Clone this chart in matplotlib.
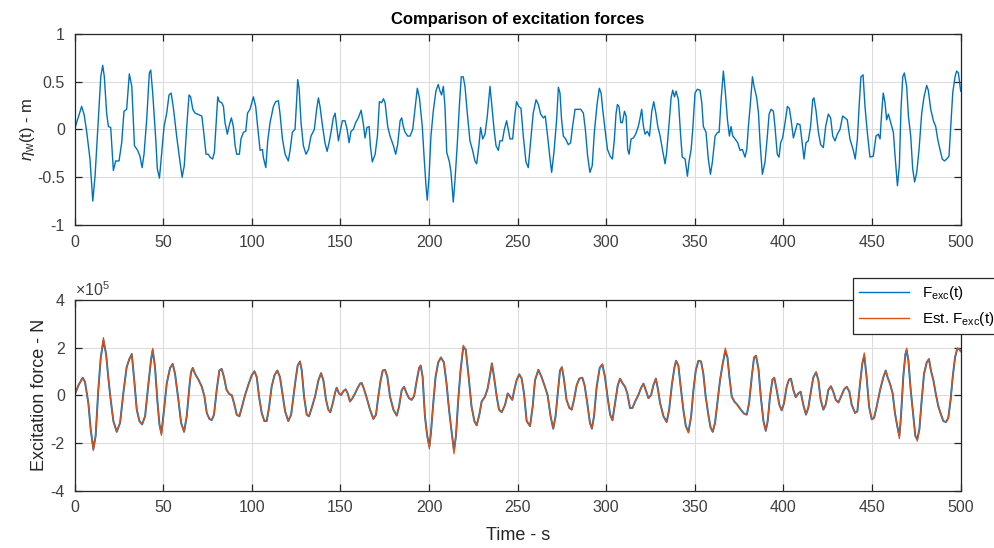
import numpy as np
import matplotlib
matplotlib.use("Agg")
import matplotlib.pyplot as plt

# wave elevation eta_w(t) [m]
wave_t = [0, 4.0, 5.4, 6.9, 8.7, 10.3, 11.6, 13.4, 14.8, 15.9, 16.8, 18.1, 19.1, 20.4, 21.9, 23.2, 25.1, 26.6, 27.9, 29.4,
          30.9, 32.3, 33.8, 35.6, 36.9, 38.1, 39.2, 40.7, 42.2, 43.0, 44.1, 45.8, 46.7, 47.9, 49.2, 50.5, 52.0, 53.3, 54.5, 55.8,
          57.6, 59.5, 60.7, 61.9, 63.3, 64.6, 65.5, 66.7, 68.0, 69.9, 71.8, 72.7, 74.2, 75.5, 76.4, 77.9, 78.9, 79.8, 80.8, 81.7,
          83.0, 84.0, 84.9, 86.2, 87.4, 88.5, 89.6, 90.6, 91.5, 93.0, 93.9, 95.3, 96.6, 97.6, 99.0, 100.9, 102.2, 103.3, 104.7, 106.0,
          106.5, 107.9, 109.0, 110.3, 112.2, 113.5, 115.0, 115.9, 117.3, 118.8, 120.6, 121.6, 122.9, 124.4, 125.4, 125.9, 126.7, 127.8, 129.1, 130.6,
          132.0, 133.4, 135.3, 136.6, 137.6, 138.5, 139.8, 141.3, 142.5, 143.6, 144.7, 146.0, 147.0, 147.9, 148.9, 149.8, 151.1, 152.6, 153.8, 154.9,
          156.0, 157.3, 158.6, 160.1, 161.7, 163.0, 163.9, 165.0, 166.2, 166.9, 168.0, 169.6, 170.9, 172.0, 173.3, 174.3, 175.2, 176.7, 178.0, 179.9,
          181.2, 182.3, 183.7, 184.6, 185.5, 186.5, 188.0, 189.3, 190.8, 192.1, 193.4, 194.6, 196.2, 197.3, 198.3, 199.0, 200.0, 201.1, 202.4, 203.9,
          205.2, 206.2, 207.1, 208.1, 209.0, 210.0, 211.5, 212.4, 213.7, 214.7, 216.0, 217.1, 218.2, 219.3, 220.3, 221.6, 223.1, 224.6, 225.9, 226.9,
          228.2, 229.1, 230.3, 231.6, 232.9, 234.4, 235.3, 236.7, 237.8, 239.1, 240.0, 241.4, 242.5, 243.8, 244.7, 245.7, 247.2, 248.5, 249.4, 250.6,
          251.9, 253.2, 254.7, 256.0, 257.5, 258.8, 260.4, 261.7, 263.0, 264.5, 265.6, 266.9, 268.3, 269.2, 270.5, 272.0, 273.0, 273.9, 274.8, 275.8,
          277.1, 278.6, 279.9, 281.0, 282.4, 283.7, 285.6, 287.1, 288.2, 289.5, 290.8, 292.1, 293.3, 294.8, 296.1, 297.1, 298.0, 299.3, 300.7, 302.2,
          303.5, 304.6, 305.5, 306.3, 307.2, 308.2, 309.1, 310.3, 311.2, 312.1, 312.9, 314.0, 315.3, 316.6, 318.1, 319.1, 320.0, 321.0, 321.9, 323.2,
          324.4, 325.7, 326.8, 328.0, 329.1, 330.4, 331.7, 333.2, 334.1, 335.5, 336.6, 337.5, 338.5, 339.4, 340.7, 342.0, 342.9, 344.5, 345.8, 346.7,
          347.9, 348.8, 350.1, 351.4, 352.9, 353.9, 354.8, 356.3, 357.6, 358.8, 359.9, 361.4, 362.9, 363.7, 364.8, 366.1, 367.1, 368.4, 369.5, 370.4,
          371.4, 372.7, 374.2, 375.5, 376.8, 378.3, 379.3, 380.2, 381.2, 382.5, 383.4, 384.9, 385.9, 386.8, 388.1, 389.6, 390.9, 391.9, 393.0, 394.3,
          395.2, 396.5, 397.5, 398.4, 399.5, 400.9, 402.2, 403.3, 404.3, 405.6, 406.5, 407.8, 409.3, 410.3, 411.6, 412.7, 414.0, 415.3, 416.5, 417.2,
          418.4, 419.7, 421.0, 422.5, 423.8, 425.3, 426.6, 427.8, 429.1, 430.4, 431.9, 433.4, 434.7, 436.0, 437.5, 439.4, 440.5, 441.7, 442.8, 443.7,
          444.9, 446.0, 447.3, 448.8, 450.7, 452.2, 453.5, 454.5, 455.4, 456.3, 457.3, 458.2, 459.2, 460.5, 462.0, 463.1, 464.3, 465.4, 466.3, 467.3,
          468.2, 469.5, 470.5, 471.8, 472.9, 474.0, 475.2, 476.5, 478.0, 479.3, 480.8, 481.7, 483.1, 484.6, 485.9, 487.0, 488.3, 489.6, 490.8, 492.1,
          493.4, 494.3, 495.5, 496.8, 497.7, 498.7, 500.0]
wave_eta = [0, 0.24, 0.155, -0.03, -0.31, -0.75, -0.48, 0.10, 0.55, 0.67, 0.55, 0.17, 0.03, 0.02, -0.43, -0.33, -0.33, -0.14, 0.19, 0.21,
            0.58, 0.45, -0.17, -0.22, -0.28, -0.40, -0.26, 0.10, 0.59, 0.62, 0.38, -0.10, -0.41, -0.51, -0.24, 0.03, 0.17, 0.36, 0.38, 0.22,
            -0.07, -0.34, -0.50, -0.38, 0.03, 0.36, 0.34, 0.21, 0.17, 0.155, 0.14, 0, -0.26, -0.26, -0.29, -0.31, -0.24, 0.03, 0.34, 0.29,
            0.28, 0.24, 0.07, -0.05, 0.05, 0.12, 0.03, -0.17, -0.26, -0.26, -0.10, -0.03, -0.02, 0.17, 0.21, 0.34, 0.24, 0.03, -0.22, -0.21,
            -0.29, -0.40, -0.12, 0.07, 0.24, 0.29, 0.30, 0.17, -0.10, -0.26, -0.33, -0.22, -0.03, 0, 0.33, 0.52, 0.43, 0.07, -0.17, -0.26,
            -0.21, -0.07, 0, 0.21, 0.33, 0.24, 0.05, -0.14, -0.23, -0.14, -0.03, 0.12, 0.17, 0.03, -0.12, -0.03, 0.09, 0.09, 0, -0.14,
            -0.02, 0, 0.07, 0.12, 0.20, 0.05, -0.09, 0.02, 0.03, -0.17, -0.34, -0.26, -0.07, 0.29, 0.28, 0.32, 0.28, 0.03, -0.07, -0.17,
            -0.26, -0.16, 0.09, 0.12, 0.03, -0.03, -0.07, -0.07, 0, 0.21, 0.43, 0.33, 0.03, -0.31, -0.59, -0.74, -0.50, -0.07, 0.19, 0.40,
            0.47, 0.40, 0.36, 0.45, 0.24, -0.24, -0.34, -0.45, -0.76, -0.52, -0.14, 0.24, 0.55, 0.55, 0.45, 0.17, -0.12, -0.22, -0.33, -0.36,
            -0.16, 0.02, -0.10, -0.05, 0.14, 0.45, 0.28, 0, -0.17, -0.22, -0.12, -0.12, 0, 0.09, 0, -0.10, -0.10, 0.16, 0.29, 0.24,
            0.22, -0.07, -0.34, -0.40, -0.10, 0.17, 0.31, 0.26, 0.16, 0.12, 0.14, -0.07, -0.31, -0.45, -0.24, 0.10, 0.44, 0.38, 0.10, -0.07,
            -0.10, -0.16, -0.14, 0.03, 0.21, 0.21, 0.21, 0.17, 0, -0.28, -0.45, -0.38, -0.03, 0.26, 0.43, 0.38, 0.21, 0, -0.21, -0.28,
            -0.31, -0.10, 0.16, 0.26, 0.24, 0.07, 0.07, 0.19, 0.14, -0.21, -0.26, -0.10, -0.09, -0.05, 0.03, 0.12, 0.21, 0.03, -0.05, -0.02,
            -0.07, 0.19, 0.29, 0.17, 0.03, -0.07, -0.21, -0.36, -0.24, 0.07, 0.33, 0.41, 0.34, 0.40, 0.31, -0.07, -0.29, -0.31, -0.49, -0.34,
            -0.21, 0, 0.38, 0.42, 0.41, 0.28, 0.03, -0.03, -0.31, -0.47, -0.34, -0.07, -0.03, -0.03, 0.31, 0.61, 0.41, 0.10, -0.07, 0.03,
            -0.07, -0.10, -0.14, -0.22, -0.21, -0.29, -0.21, 0.03, 0.24, 0.55, 0.45, 0.33, 0.17, -0.14, -0.47, -0.34, -0.07, 0.16, 0.21, 0.19,
            0.03, -0.26, -0.29, -0.14, -0.09, 0.07, 0.24, 0.22, 0.10, -0.09, -0.03, 0.06, 0.05, -0.10, -0.31, -0.14, -0.12, 0.03, 0.31, 0.33,
            0.19, -0.03, -0.16, -0.19, 0.03, 0.16, 0.12, -0.07, -0.12, -0.05, 0, 0.14, 0.12, 0.10, -0.10, -0.22, -0.31, -0.10, 0.28, 0.55,
            0.57, 0.24, -0.03, -0.29, -0.28, -0.07, -0.05, -0.10, 0.17, 0.38, 0.28, 0.10, 0.16, 0.07, -0.03, -0.31, -0.59, -0.38, 0.21, 0.55,
            0.59, 0.45, 0.14, -0.07, -0.41, -0.55, -0.45, -0.21, 0.17, 0.34, 0.46, 0.41, 0.21, 0.09, 0.03, -0.10, -0.21, -0.31, -0.33, -0.31,
            -0.28, 0, 0.38, 0.55, 0.61, 0.59, 0.40]

# excitation force F_exc(t) [x1e5 N]
force_t = [0, 2.2, 4.6, 5.9, 7.8, 9.1, 10.6, 11.9, 13.4, 14.8, 16.3, 17.8, 19.1, 20.4, 21.9, 23.8, 25.7, 27.5, 29.4, 30.9,
           32.3, 33.6, 35.1, 36.6, 38.1, 39.8, 41.7, 43.2, 44.1, 45.4, 46.7, 47.9, 49.0, 50.5, 52.0, 53.9, 55.4, 56.7, 58.6, 60.1,
           61.8, 63.3, 64.8, 65.7, 66.7, 68.0, 69.9, 71.8, 73.3, 74.6, 76.1, 77.4, 78.7, 80.2, 81.7, 83.0, 84.3, 85.8, 87.4, 88.7,
           90.0, 91.5, 93.0, 94.3, 96.2, 98.1, 100.0, 101.5, 102.8, 104.1, 105.6, 107.1, 108.4, 109.7, 111.2, 112.8, 114.4, 115.9, 117.3, 118.8,
           120.6, 122.2, 123.5, 124.8, 125.9, 127.2, 128.2, 129.5, 131.0, 132.3, 133.8, 135.7, 137.6, 139.1, 140.4, 141.9, 143.2, 144.3, 145.7, 147.0,
           147.9, 149.2, 150.4, 151.7, 153.0, 154.1, 155.4, 156.8, 158.3, 159.6, 161.1, 162.0, 163.2, 164.9, 166.7, 168.6, 170.1, 171.4, 172.7, 173.9,
           175.2, 176.5, 178.0, 179.9, 181.8, 183.1, 184.6, 185.9, 187.4, 188.7, 190.2, 191.6, 193.1, 194.4, 195.3, 196.4, 197.7, 199.0, 200.2, 201.1,
           202.4, 203.7, 205.2, 206.7, 208.4, 209.9, 211.3, 212.8, 214.1, 215.2, 216.5, 217.8, 219.3, 220.7, 222.2, 224.0, 225.6, 226.9, 228.4, 229.7,
           231.6, 233.1, 234.4, 235.5, 236.7, 238.2, 239.5, 241.0, 242.9, 244.4, 245.7, 247.0, 248.1, 249.4, 250.9, 252.3, 253.6, 255.1, 257.0, 258.5,
           259.8, 261.7, 263.5, 265.4, 266.9, 268.6, 270.1, 271.4, 272.8, 273.9, 275.0, 276.1, 277.6, 279.2, 280.5, 281.8, 283.3, 284.8, 286.5, 287.8,
           289.3, 290.8, 291.9, 293.1, 294.6, 296.3, 297.8, 299.3, 300.7, 302.2, 303.5, 305.0, 306.5, 307.8, 309.1, 310.6, 311.9, 313.4, 314.8, 316.3,
           318.1, 319.7, 321.0, 322.3, 323.8, 325.3, 326.6, 328.0, 329.1, 330.4, 332.3, 334.1, 335.5, 337.0, 338.5, 339.4, 340.7, 342.0, 343.5, 344.9,
           346.4, 347.9, 349.2, 350.5, 352.0, 353.5, 354.8, 356.1, 357.6, 358.9, 360.1, 361.4, 362.7, 364.2, 365.7, 367.2, 368.4, 369.5, 370.8, 372.3,
           374.0, 375.9, 377.8, 379.3, 380.6, 382.1, 383.4, 384.5, 385.9, 387.2, 388.7, 390.0, 391.1, 392.4, 393.8, 394.8, 396.2, 397.7, 399.0, 400.3,
           401.8, 403.1, 404.2, 405.6, 406.9, 408.4, 409.7, 411.2, 412.7, 414.0, 415.3, 416.8, 418.4, 419.7, 421.0, 422.5, 423.8, 425.3, 426.8, 428.1,
           429.5, 431.0, 432.5, 434.2, 435.7, 437.2, 438.5, 440.4, 441.7, 443.2, 444.5, 445.6, 446.9, 448.3, 449.8, 451.1, 452.6, 454.5, 456.4, 457.7,
           458.8, 460.1, 461.6, 462.9, 464.2, 465.4, 466.3, 467.6, 468.8, 469.5, 470.5, 471.8, 473.3, 474.4, 475.5, 476.7, 478.0, 479.3, 480.8, 482.1,
           483.2, 484.6, 485.9, 487.4, 488.9, 490.2, 491.7, 493.0, 494.3, 495.5, 496.8, 498.1, 499.2, 500.0]
force_exc = [0, 0.42, 0.74, 0.56, -0.33, -1.42, -2.25, -1.70, 0.22, 1.59, 2.30, 1.73, 0.70, -0.19, -1.08, -1.53, -1.15, 0.08, 1.18, 1.52,
             1.73, 0.70, -0.60, -1.08, -1.22, -0.88, 0.49, 1.52, 1.89, 1.18, -0.19, -1.22, -1.59, -0.60, 0.49, 1.15, 1.32, 0.90, -0.19, -1.15,
             -1.53, -0.88, 0.36, 0.97, 1.15, 0.90, 0.66, 0.36, -0.05, -0.74, -0.99, -1.04, -0.81, 0.22, 1.04, 1.11, 0.77, 0.22, 0.05, 0.01,
             -0.33, -0.81, -0.88, -0.53, 0.01, 0.45, 0.84, 1.01, 0.77, -0.05, -0.74, -1.08, -1.08, -0.53, 0.36, 0.84, 1.04, 0.77, 0.08, -0.67,
             -1.08, -0.81, -0.05, 0.70, 1.25, 1.42, 1.04, -0.05, -0.81, -0.88, -0.53, -0.05, 0.63, 0.93, 0.63, -0.19, -0.60, -0.71, -0.33, 0.11,
             0.32, 0.08, 0.01, 0.18, 0.25, 0.08, -0.26, -0.12, 0.08, 0.29, 0.49, 0.52, 0.29, -0.12, -0.60, -0.99, -0.81, -0.05, 0.63, 1.04,
             1.07, 0.77, -0.05, -0.60, -0.85, -0.47, 0.22, 0.36, 0.08, -0.12, -0.19, -0.03, 0.63, 1.15, 1.25, 0.77, -0.88, -1.70, -2.14, -1.56,
             -0.33, 0.77, 1.38, 1.59, 1.38, 0.49, -0.60, -1.56, -2.32, -1.70, -0.19, 1.04, 2.00, 1.93, 0.90, -0.47, -1.08, -1.26, -0.81, -0.26,
             -0.05, 0.29, 0.84, 1.34, 0.77, -0.05, -0.60, -0.71, -0.40, 0.08, -0.05, -0.19, 0.22, 0.63, 0.88, 0.70, 0.08, -1.08, -1.29, -0.47,
             0.63, 1.07, 0.77, 0.36, 0.01, -0.88, -1.40, -0.88, 0.22, 1.04, 1.18, 0.70, -0.19, -0.53, -0.60, -0.19, 0.42, 0.70, 0.74, 0.42,
             -0.33, -1.15, -1.40, -0.88, 0.36, 1.15, 1.30, 0.77, -0.05, -0.81, -1.05, -0.33, 0.42, 0.70, 0.52, 0.36, 0.08, -0.53, -0.53, -0.26,
             0.01, 0.32, 0.49, 0.22, -0.12, 0.01, 0.42, 0.70, 0.29, -0.33, -0.88, -1.12, -0.60, 0.42, 1.18, 1.45, 1.25, 0.36, -0.60, -1.29,
             -1.53, -0.88, 0.22, 1.04, 1.45, 1.42, 0.90, -0.05, -0.81, -1.36, -1.53, -1.15, -0.33, 0.63, 1.32, 1.86, 1.59, 0.77, -0.05, -0.26,
             -0.40, -0.60, -0.77, -0.81, -0.33, 0.77, 1.59, 1.66, 1.11, -0.05, -1.08, -1.49, -1.08, -0.05, 0.66, 0.74, 0.22, -0.40, -0.63, -0.33,
             0.36, 0.66, 0.70, 0.22, -0.08, 0.08, 0.15, -0.40, -0.81, -0.53, 0.08, 0.74, 0.97, 0.63, -0.19, -0.60, -0.40, 0.22, 0.38, 0.15,
             -0.19, -0.30, -0.05, 0.25, 0.36, 0.15, -0.40, -0.74, -0.67, 0.49, 1.34, 1.66, 0.77, -0.47, -1.01, -0.95, -0.47, 0.22, 0.77, 1.04,
             0.74, 0.49, 0.08, -0.74, -1.29, -1.70, -0.88, 0.77, 1.73, 1.89, 1.45, 0.22, -0.88, -1.70, -1.84, -1.42, -0.19, 0.90, 1.38, 1.52,
             1.04, 0.63, 0.08, -0.47, -0.81, -1.08, -1.12, -0.95, -0.19, 0.77, 1.59, 1.97, 1.93, 1.85]

# estimated force: same as F_exc except at these peaks (time -> value)
est_peaks = {10.6: -2.32, 16.3: 2.42, 44.1: 1.97, 49.0: -1.68, 200.2: -2.25, 214.1: -2.45,
             219.3: 2.10, 346.4: -1.58, 367.2: 1.98, 445.6: 1.78, 465.4: -1.82, 469.5: 1.98, 475.5: -1.92}
force_est = [est_peaks.get(t, f) for t, f in zip(force_t, force_exc)]

blue = "#0072BD"
orange = "#D95319"
dark = "#262626"

plt.rcParams["font.family"] = ["Liberation Sans", "DejaVu Sans"]
plt.rcParams["mathtext.fontset"] = "custom"
plt.rcParams["mathtext.rm"] = "Liberation Sans"
plt.rcParams["mathtext.it"] = "Liberation Sans:italic"
plt.rcParams["axes.unicode_minus"] = False

fig = plt.figure(figsize=(9.94, 5.48), dpi=100)
ax1 = fig.add_axes([0.075, 0.5894, 0.8915, 0.349])
ax2 = fig.add_axes([0.075, 0.1046, 0.8915, 0.348])


def matlab_style(ax):
    ax.grid(True, color="#dcdcdc", linewidth=0.8)
    ax.set_axisbelow(True)
    for s in ax.spines.values():
        s.set_color(dark)
        s.set_linewidth(0.9)
    ax.tick_params(direction="in", top=True, right=True, length=5, width=0.9,
                   color=dark, labelcolor="#404040", labelsize=11.5)
    ax.tick_params(axis="x", pad=7)
    ax.tick_params(axis="y", pad=7)
    ax.set_xlim(0, 500)
    ax.set_xticks(np.arange(0, 501, 50))


ax1.plot(wave_t, wave_eta, color=blue, lw=1.0)
matlab_style(ax1)
ax1.set_ylim(-1, 1)
ax1.set_yticks([-1, -0.5, 0, 0.5, 1])
ax1.set_yticklabels(["-1", "-0.5", "0", "0.5", "1"])
ax1.set_ylabel(r"$\eta_{\rm w}$(t) - m", fontsize=12, color=dark, labelpad=0)
ax1.set_title("Comparison of excitation forces", fontsize=12, fontweight="bold", color="black", pad=7)

ax2.plot(force_t, force_exc, color=blue, lw=1.4, label=r"F$_{\rm exc}$(t)")
ax2.plot(force_t, force_est, color=orange, lw=0.9, label=r"Est. F$_{\rm exc}$(t)")
matlab_style(ax2)
ax2.set_ylim(-4, 4)
ax2.set_yticks([-4, -2, 0, 2, 4])
ax2.set_ylabel("Excitation force - N", fontsize=13, color=dark, labelpad=2)
ax2.set_xlabel("Time - s", fontsize=13, color=dark, labelpad=8)
ax2.text(0.0, 1.005, r"$\times$10$^5$", transform=ax2.transAxes, ha="left", va="bottom",
         fontsize=11.5, color="#404040")

leg = ax2.legend(loc="upper left", bbox_to_anchor=(0.858, 0.493), bbox_transform=fig.transFigure,
                 fontsize=11, handlelength=3.3, fancybox=False, framealpha=1, edgecolor=dark,
                 borderaxespad=0, labelspacing=0.55)
leg.get_frame().set_linewidth(0.9)
for line in leg.get_lines():
    line.set_linewidth(1.0)

fig.savefig("out.png", dpi=100)
